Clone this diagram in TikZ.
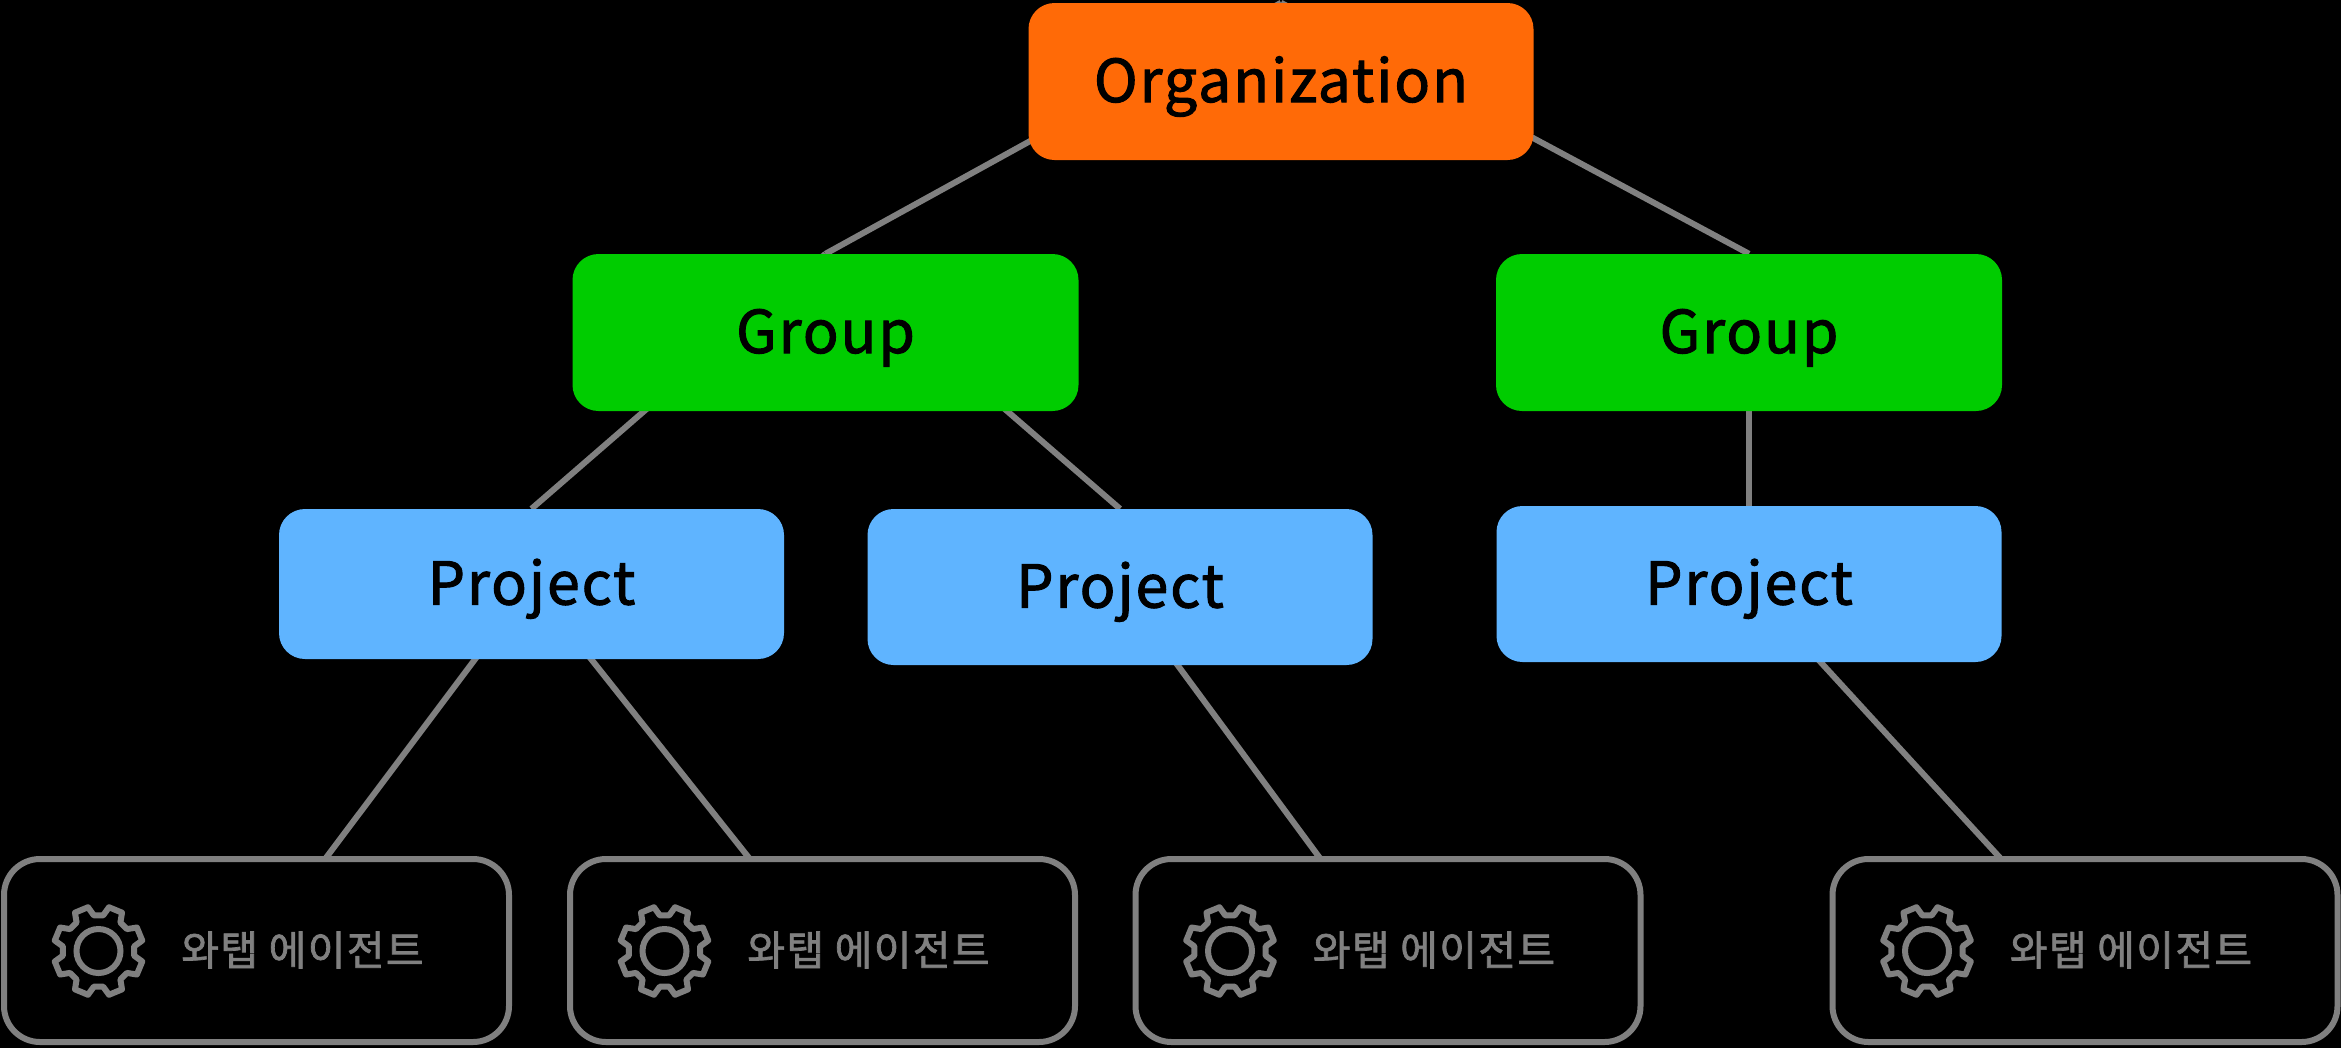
\documentclass[tikz,border=0pt]{standalone}
\usepackage{fontspec}
\setmainfont[LetterSpace=3.3,FakeBold=1.7]{Noto Sans CJK KR}
\usetikzlibrary{backgrounds}
\definecolor{orgcolor}{HTML}{FF6A07}
\definecolor{groupcolor}{HTML}{00CC00}
\definecolor{projcolor}{HTML}{5FB4FF}
\definecolor{linegray}{HTML}{808080}
\tikzset{
    box/.style={rounded corners=26pt, text=black, font=\fontsize{59pt}{59pt}\selectfont, minimum width=505pt, text height=50pt, text depth=9pt},
    orgbox/.style={box, fill=orgcolor, minimum width=505pt, minimum height=157pt},
    groupbox/.style={box, fill=groupcolor, minimum width=506pt, minimum height=157pt},
    projbox/.style={box, fill=projcolor},
    agentbox/.style={rounded corners=36pt, draw=linegray, line width=6pt, fill=black, minimum width=505pt, minimum height=183pt},
    agentlabel/.style={text=linegray, font=\fontsize{41pt}{41pt}\selectfont},
    conn/.style={draw=linegray, line width=6pt},
}
\begin{document}
\begin{tikzpicture}[x=1pt, y=-1pt]
    \useasboundingbox (0,0) rectangle (2341,1047);
    \node[orgbox] (org) at (1281,81.5) {Organization};
    \node[groupbox] (groupL) at (825.5,332.5) {Group};
    \node[groupbox] (groupR) at (1749,332.5) {Group};
    \node[projbox, minimum height=150pt] (projL) at (531.5,584) {Project};
    \node[projbox, minimum height=156pt] (projM) at (1120,587) {Project};
    \node[projbox, minimum height=156pt] (projR) at (1749,584) {Project};
    \foreach \name/\x in {agentA/256.5, agentB/822.5, agentC/1388, agentD/2085} {
        \node[agentbox] (\name) at (\x,950.5) {};
        \node[agentlabel] (\name label) at (\x+46,950) {와탭 에이전트};
        % gear icon
        \begin{scope}[shift={(\x-158,951)}, y=1pt]
            \draw[linegray, line width=6pt, line join=round] (7.5:36)
                \foreach \a in {22.5,67.5,...,337.5} { -- (\a-15:36) -- (\a-9:45) -- (\a+9:45) -- (\a+15:36) } -- cycle;
            \draw[linegray, line width=6pt] (0,0) circle (22);
        \end{scope}
    }
    \begin{pgfonlayer}{background}
        \fill[black] (-2,-2) rectangle (2343,1049);
        \draw[conn] (org.north) -- (groupL.north);
        \draw[conn] (org.north) -- (groupR.north);
        \draw[conn] (groupL.north) -- (projL.north);
        \draw[conn] (groupL.north) -- (projM.north);
        \draw[conn] (groupR.north) -- (projR.north);
        \draw[conn] (projL.center) -- (agentA.center);
        \draw[conn] (projL.center) -- (agentB.center);
        \draw[conn] (projM.center) -- (agentC.center);
        \draw[conn] (projR.center) -- (agentD.center);
    \end{pgfonlayer}
\end{tikzpicture}
\end{document}
